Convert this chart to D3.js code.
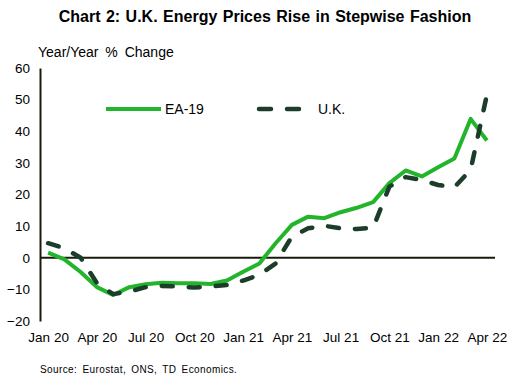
<!DOCTYPE html>
<html>
<head>
<meta charset="utf-8">
<script src="https://cdn.jsdelivr.net/npm/d3@7"></script>
<style>
  body { margin: 0; background: #fff; }
  text { font-family: Arial, "Liberation Sans", sans-serif; fill: #000; }
</style>
</head>
<body>
<svg id="chart" width="515" height="384"></svg>
<script>
// monthly data, Jan 20 .. Apr 22
const months = ["Jan 20","Feb 20","Mar 20","Apr 20","May 20","Jun 20","Jul 20","Aug 20","Sep 20","Oct 20","Nov 20","Dec 20",
                "Jan 21","Feb 21","Mar 21","Apr 21","May 21","Jun 21","Jul 21","Aug 21","Sep 21","Oct 21","Nov 21","Dec 21",
                "Jan 22","Feb 22","Mar 22","Apr 22"];
const ea19 = [1.6, -0.5, -4.5, -9.3, -11.8, -9.3, -8.4, -7.9, -8.1, -8.1, -8.3, -7.2,
              -4.4, -1.8, 4.6, 10.4, 13.0, 12.5, 14.4, 15.8, 17.6, 23.6, 27.6, 25.7,
              28.6, 31.4, 43.9, 37.1];
const uk = [4.6, 3.0, 0.0, -8.0, -11.5, -10.7, -9.3, -8.9, -9.1, -9.4, -9.1, -8.6,
            -7.2, -5.4, -1.8, 6.7, 9.3, 10.1, 9.3, 9.1, 9.5, 22.5, 25.5, 24.6,
            23.0, 22.3, 27.8, 51.5];
const xTicks = ["Jan 20","Apr 20","Jul 20","Oct 20","Jan 21","Apr 21","Jul 21","Oct 21","Jan 22","Apr 22"];
const yTicks = [-20, -10, 0, 10, 20, 30, 40, 50, 60];

const svg = d3.select("#chart");
const margin = { top: 68, right: 20, bottom: 63, left: 40 };
const width = 515, height = 384;

const x = d3.scalePoint()
    .domain(months)
    .range([margin.left, width - margin.right])
    .padding(0.5);

const y = d3.scaleLinear()
    .domain([-20, 60])
    .range([height - margin.bottom, margin.top]);

// title
svg.append("text")
    .attr("x", 265).attr("y", 22)
    .attr("text-anchor", "middle")
    .style("font-size", "16px").style("font-weight", "bold")
    .style("word-spacing", "1px")
    .text("Chart 2: U.K. Energy Prices Rise in Stepwise Fashion");

svg.append("text")
    .attr("x", 38).attr("y", 57)
    .style("font-size", "14px")
    .style("word-spacing", "3px")
    .text("Year/Year % Change");

// y axis
const yAxis = svg.append("g")
    .attr("transform", `translate(${margin.left},0)`)
    .call(d3.axisLeft(y).tickValues(yTicks).tickSize(0).tickPadding(10));
yAxis.select(".domain").attr("stroke", "#1a1a0a").attr("stroke-width", 2);
yAxis.selectAll("text").style("font-size", "13.5px").attr("font-family", null);

// x labels (no axis line, zero line drawn instead)
const xAxis = svg.append("g")
    .attr("transform", `translate(0,${height - margin.bottom})`)
    .call(d3.axisBottom(x).tickValues(xTicks).tickSize(0).tickPadding(11));
xAxis.select(".domain").remove();
xAxis.selectAll("text").style("font-size", "13.5px").attr("font-family", null);

// zero line
svg.append("line")
    .attr("x1", margin.left).attr("x2", width - margin.right)
    .attr("y1", y(0)).attr("y2", y(0))
    .attr("stroke", "#1a1a0a").attr("stroke-width", 2);

const line = d3.line()
    .x((d, i) => x(months[i]))
    .y(d => y(d));

svg.append("path")
    .datum(ea19)
    .attr("fill", "none")
    .attr("stroke", "#22b52b")
    .attr("stroke-width", 4)
    .attr("stroke-linejoin", "round")
    .attr("d", line);

svg.append("path")
    .datum(uk)
    .attr("fill", "none")
    .attr("stroke", "#1b3d29")
    .attr("stroke-width", 4.5)
    .attr("stroke-dasharray", "11 16")
    .attr("stroke-linecap", "round")
    .attr("stroke-linejoin", "round")
    .attr("d", line);

// legend
const legend = svg.append("g");
legend.append("line")
    .attr("x1", 106).attr("x2", 161).attr("y1", 109).attr("y2", 109)
    .attr("stroke", "#22b52b").attr("stroke-width", 4);
legend.append("text")
    .attr("x", 165).attr("y", 114)
    .style("font-size", "14px")
    .text("EA-19");
legend.append("line")
    .attr("x1", 259).attr("x2", 312).attr("y1", 109).attr("y2", 109)
    .attr("stroke", "#1b3d29").attr("stroke-width", 4.5)
    .attr("stroke-dasharray", "12 16").attr("stroke-linecap", "round");
legend.append("text")
    .attr("x", 318).attr("y", 114)
    .style("font-size", "14px")
    .text("U.K.");

// source
svg.append("text")
    .attr("x", 40).attr("y", 373)
    .style("font-size", "10px")
    .style("letter-spacing", "0.4px")
    .style("word-spacing", "2px")
    .text("Source: Eurostat, ONS, TD Economics.");
</script>
</body>
</html>
